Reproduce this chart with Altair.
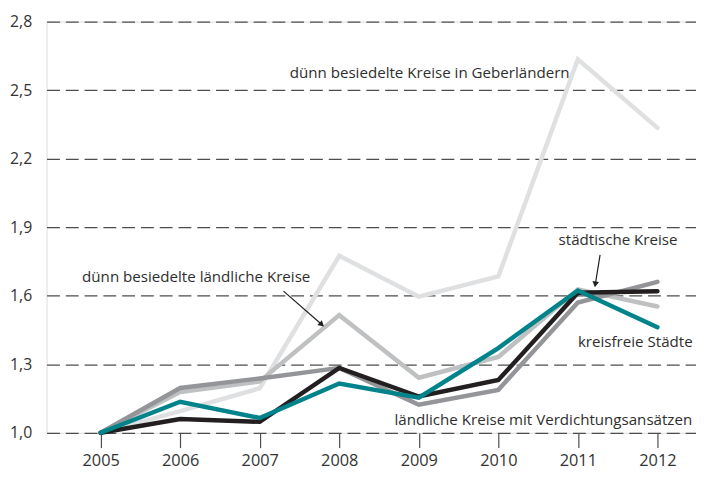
import altair as alt
import pandas as pd

years = [2005, 2006, 2007, 2008, 2009, 2010, 2011, 2012]
geber = [1.00, 1.095, 1.195, 1.775, 1.596, 1.685, 2.635, 2.335]
laendlich = [1.00, 1.178, 1.225, 1.515, 1.241, 1.332, 1.628, 1.553]
verdicht = [1.00, 1.196, 1.238, 1.284, 1.123, 1.188, 1.570, 1.661]
staedtisch = [1.00, 1.060, 1.048, 1.284, 1.159, 1.231, 1.613, 1.620]
kreisfrei = [1.00, 1.136, 1.065, 1.216, 1.154, 1.371, 1.623, 1.462]

series_names = [
    "dünn besiedelte Kreise in Geberländern",
    "dünn besiedelte ländliche Kreise",
    "ländliche Kreise mit Verdichtungsansätzen",
    "städtische Kreise",
    "kreisfreie Städte",
]
series_values = [geber, laendlich, verdicht, staedtisch, kreisfrei]
series_colors = ["#dfe0e1", "#bfc0c2", "#939598", "#231f20", "#00838b"]

label_text = [
    "dünn besiedelte Kreise in Geberländern",
    "dünn besiedelte ländliche Kreise",
    "städtische Kreise",
    "kreisfreie Städte",
    "ländliche Kreise mit Verdichtungsansätzen",
]
label_x = [2007.377, 2004.767, 2010.757, 2011.0, 2008.694]
label_y = [2.555, 1.659, 1.822, 1.376, 1.036]

arrow_x = [2007.299, 2011.279]
arrow_y = [1.620, 1.779]
arrow_x2 = [2007.78, 2011.219]
arrow_y2 = [1.474, 1.650]
arrow_angle = [131.2, 188.6]

y_ticks = [1.0, 1.3, 1.6, 1.9, 2.2, 2.5, 2.8]

FONT = "Open Sans"

xscale = alt.Scale(domain=[2004.32, 2012.485], nice=False, zero=False)
yscale = alt.Scale(domain=[1.0, 2.8], nice=False, zero=False)

axis_df = pd.DataFrame({"year": years, "v": [1.0] * len(years)})
base = alt.Chart(axis_df).mark_point(opacity=0).encode(
    x=alt.X("year:Q", scale=xscale,
            axis=alt.Axis(values=years, format="d", title=None, grid=False,
                          domain=False, ticks=True, tickSize=15, tickColor="#4d4d4d",
                          tickWidth=1.2, labelFontSize=16.5, labelFont=FONT,
                          labelColor="#333333", labelPadding=5, labelFlush=False)),
    y=alt.Y("v:Q", scale=yscale,
            axis=alt.Axis(values=y_ticks, title=None, grid=True, gridDash=[13, 6],
                          gridColor="#4d4d4d", gridWidth=1.3, domain=False, ticks=False,
                          labelExpr="replace(format(datum.value, '.1f'), '.', ',')",
                          labelFontSize=16, labelFont=FONT, labelColor="#333333",
                          labelPadding=15)),
)

layers = [base]
for name, vals, col in zip(series_names, series_values, series_colors):
    df = pd.DataFrame({"year": years, "value": vals, "series": name})
    layers.append(
        alt.Chart(df).mark_line(color=col, strokeWidth=4.5, strokeCap="round",
                                strokeJoin="miter", clip=False).encode(
            x=alt.X("year:Q", scale=xscale),
            y=alt.Y("value:Q", scale=yscale),
        )
    )

lab_df = pd.DataFrame({"t": label_text, "x": label_x, "y": label_y})
labels = alt.Chart(lab_df).mark_text(align="left", baseline="alphabetic", font=FONT,
                                     fontSize=15.3, color="#2e2e2e").encode(
    x=alt.X("x:Q", scale=xscale), y=alt.Y("y:Q", scale=yscale), text="t:N")
layers.append(labels)

arr_df = pd.DataFrame({"x": arrow_x, "y": arrow_y, "x2": arrow_x2, "y2": arrow_y2,
                       "a": arrow_angle})
rules = alt.Chart(arr_df).mark_rule(color="#231f20", strokeWidth=1.2).encode(
    x=alt.X("x:Q", scale=xscale), y=alt.Y("y:Q", scale=yscale), x2="x2:Q", y2="y2:Q")
heads = alt.Chart(arr_df).mark_point(shape="triangle-up", filled=True, size=45,
                                     color="#231f20", opacity=1).encode(
    x=alt.X("x2:Q", scale=xscale), y=alt.Y("y2:Q", scale=yscale),
    angle=alt.Angle("a:Q", scale=None))
layers += [rules, heads]

chart = alt.layer(*layers).properties(
    width=657, height=416,
    autosize=alt.AutoSizeParams(type="none"),
    padding={"left": 39, "top": 11, "right": 0, "bottom": 44},
).configure_view(stroke=None).configure(background="white")

chart.save("out.html", embed_options={"renderer": "svg", "actions": False})
